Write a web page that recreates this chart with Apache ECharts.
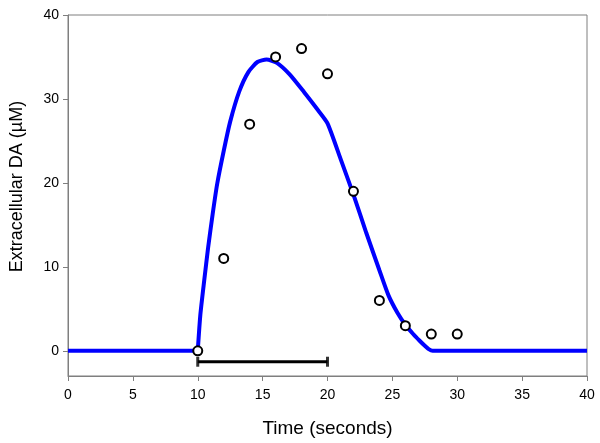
<!DOCTYPE html>
<html>
<head>
<meta charset="utf-8">
<script src="https://cdn.jsdelivr.net/npm/echarts@6/dist/echarts.min.js"></script>
<style>html,body{margin:0;padding:0;background:#fff}#c{width:600px;height:443px}</style>
</head>
<body>
<div id="c"></div>
<script>
// Measured data points (time s, DA µM)
var pointTimes = [10, 12, 14, 16, 18, 20, 22, 24, 26, 28, 30];
var pointValues = [0, 11, 27, 35, 36, 33, 19, 6, 3, 2, 2];
// Model curve
var curveTimes = [0, 10, 10.2, 10.5, 10.8, 11.15, 11.5, 12, 12.5, 13.2, 13.9, 14.6, 15.3, 16.1, 17.1, 18.2, 19.2, 20, 21, 22, 23, 24, 24.7, 25.4, 26, 26.6, 27.1, 27.5, 27.8, 28.1, 40];
var curveValues = [0, 0, 4.3, 8.4, 12.3, 16.3, 19.9, 23.8, 27.3, 30.9, 33.2, 34.4, 34.7, 34.3, 32.9, 30.8, 28.8, 27.1, 22.9, 18.6, 14.0, 9.6, 6.6, 4.5, 3.1, 2.0, 1.2, 0.6, 0.2, 0, 0];
// Stimulation bar
var stimTimes = [10, 20];
var stimLevel = -1.3;
// Axis ticks
var xTicks = [0, 5, 10, 15, 20, 25, 30, 35, 40];
var yTicks = [0, 10, 20, 30, 40];

var curve = curveTimes.map(function (t, i) { return [t, curveValues[i]]; });
var curveBase = curve.slice(0, 2);
var curveResponse = curve.slice(1);
var pts = pointTimes.map(function (t, i) { return [t, pointValues[i]]; });
var stim = stimTimes.map(function (t) { return [t, stimLevel]; });

var axisColor = '#7f7f7f';
var chart = echarts.init(document.getElementById('c'), null, {renderer: 'canvas'});
chart.setOption({
  animation: false,
  backgroundColor: '#fff',
  grid: {left: 67, right: 13, top: 15, bottom: 67, show: true, borderColor: axisColor, borderWidth: 1, backgroundColor: 'transparent'},
  xAxis: {
    type: 'value', min: 0, max: 40, interval: 5,
    name: 'Time (seconds)', nameLocation: 'middle', nameGap: 43,
    nameTextStyle: {fontFamily: 'Liberation Sans', fontSize: 19, color: '#000'},
    axisLine: {show: true, onZero: false, lineStyle: {color: axisColor, width: 1}},
    axisTick: {show: true, inside: false, length: 5, lineStyle: {color: axisColor}, customValues: xTicks},
    axisLabel: {fontFamily: 'Liberation Sans', fontSize: 14, color: '#000', margin: 12, customValues: xTicks},
    splitLine: {show: false}
  },
  yAxis: {
    type: 'value', min: -3, max: 40,
    name: 'Extracellular DA (µM)', nameLocation: 'middle', nameGap: 42,
    nameTextStyle: {fontFamily: 'Liberation Sans', fontSize: 18, color: '#000', padding: [0, 0, 0, 18]},
    axisLine: {show: true, onZero: false, lineStyle: {color: axisColor, width: 1}},
    axisTick: {show: true, inside: false, length: 5, lineStyle: {color: axisColor}, customValues: yTicks},
    axisLabel: {fontFamily: 'Liberation Sans', fontSize: 14, color: '#000', margin: 9, customValues: yTicks},
    splitLine: {show: false}
  },
  series: [
    {
      type: 'line', data: curveBase, showSymbol: false, symbol: 'none', smooth: false,
      lineStyle: {color: '#0000ff', width: 4}, z: 2
    },
    {
      type: 'line', data: curveResponse, showSymbol: false, symbol: 'none', smooth: 0.2,
      lineStyle: {color: '#0000ff', width: 4}, z: 2
    },
    {
      type: 'line', data: stim, showSymbol: false, symbol: 'none',
      lineStyle: {color: '#000', width: 3}, z: 3
    },
    {
      type: 'scatter', data: stim, symbol: 'rect', symbolSize: [3, 10],
      itemStyle: {color: '#000'}, z: 3
    },
    {
      type: 'scatter', data: pts, symbol: 'circle', symbolSize: 9,
      itemStyle: {color: '#fff', borderColor: '#000', borderWidth: 2, opacity: 1}, z: 5
    }
  ]
});
</script>
</body>
</html>
